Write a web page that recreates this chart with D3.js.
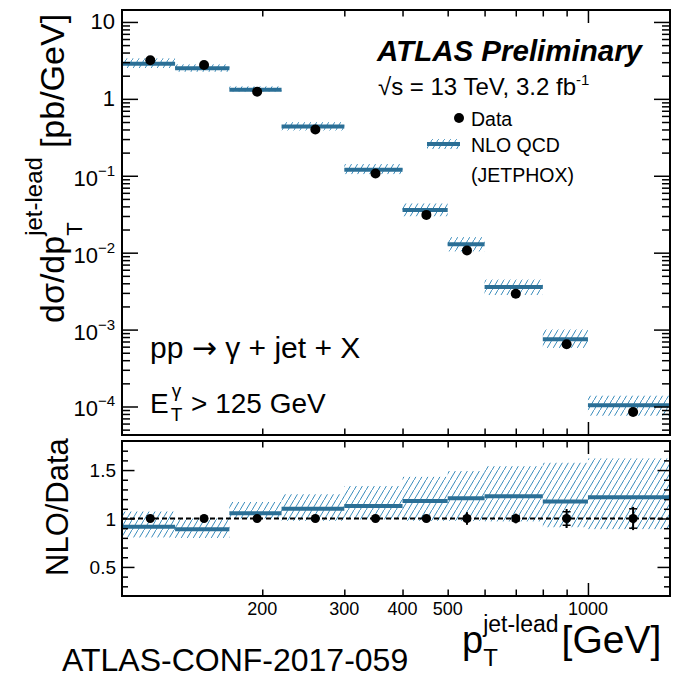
<!DOCTYPE html>
<html>
<head>
<meta charset="utf-8">
<script src="https://cdn.jsdelivr.net/npm/d3@7"></script>
<style>
    body { margin: 0; background: #fff; }
    svg { font-family: "Liberation Sans", Arial, Helvetica, sans-serif; }
</style>
</head>
<body>
<svg id="chart" width="681" height="679"></svg>
<script>
// jet pT bins [GeV]
var binEdges = [100, 130, 170, 220, 300, 400, 500, 600, 800, 1000, 1500];
var binCentres = [115, 150, 195, 260, 350, 450, 550, 700, 900, 1250];

// d sigma / d pT [pb/GeV]
var dataXsec = [3.18, 2.76, 1.24, 0.40, 0.107, 0.031, 0.0107, 0.00293, 0.000645, 0.000085];
var nloXsec = [2.87, 2.50, 1.31, 0.437, 0.120, 0.036, 0.0129, 0.00357, 0.000748, 0.000104];

// NLO / Data with the theory band
var ratio = [0.915, 0.89, 1.055, 1.10, 1.13, 1.18, 1.21, 1.23, 1.175, 1.22];
var ratioLow = [0.805, 0.80, 1.0, 0.975, 0.99, 0.975, 0.975, 0.97, 0.91, 0.89];
var ratioHigh = [1.072, 1.0, 1.17, 1.25, 1.335, 1.43, 1.49, 1.54, 1.575, 1.62];
var dataErr = [0.01, 0.01, 0.01, 0.015, 0.02, 0.03, 0.065, 0.05, 0.098, 0.12];
var dataStat = [0.005, 0.005, 0.005, 0.006, 0.008, 0.012, 0.02, 0.025, 0.07, 0.10];

var xTicks = [200, 300, 400, 500, 600, 700, 800, 900, 1000];
var xTickLabels = [200, 300, 400, 500, 1000];
var decades = [-4, -3, -2, -1, 0, 1];
var ratioLabels = [0.5, 1, 1.5];

var svg = d3.select("#chart");
var left = 122, right = 670;
var top1 = 10, bot1 = 435, top2 = 441, bot2 = 596;

var blue = "#2b6f96", hatchBlue = "#3a8cbb";

var x = d3.scaleLog().domain([100, 1500]).range([left, right]);
var y = d3.scaleLog().domain([4.26e-5, 14.3]).range([bot1, top1]);
var yR = d3.scaleLinear().domain([0.2, 1.8]).range([bot2, top2]);

var bins = d3.range(binCentres.length).map(function (i) {
    return {
        lo: binEdges[i], hi: binEdges[i + 1], c: binCentres[i],
        data: dataXsec[i], nlo: nloXsec[i],
        r: ratio[i], rLo: ratioLow[i], rHi: ratioHigh[i],
        err: dataErr[i], stat: dataStat[i]
    };
});

// hatch for the theory uncertainty
svg.append("defs").append("pattern")
    .attr("id", "hatch")
    .attr("patternUnits", "userSpaceOnUse")
    .attr("width", 6).attr("height", 10)
    .append("path")
    .attr("d", "M-0.6,11L6.6,-1")
    .attr("stroke", hatchBlue)
    .attr("stroke-width", 1);

// ---------- top panel ----------
var gTop = svg.append("g");

gTop.selectAll(".band").data(bins).enter().append("rect")
    .attr("x", function (d) { return x(d.lo); })
    .attr("width", function (d) { return x(d.hi) - x(d.lo); })
    .attr("y", function (d) { return y(d.nlo * d.rHi / d.r); })
    .attr("height", function (d) { return y(d.nlo * d.rLo / d.r) - y(d.nlo * d.rHi / d.r); })
    .attr("fill", "url(#hatch)");

gTop.selectAll(".nlo").data(bins).enter().append("line")
    .attr("x1", function (d) { return x(d.lo); })
    .attr("x2", function (d) { return x(d.hi); })
    .attr("y1", function (d) { return y(d.nlo); })
    .attr("y2", function (d) { return y(d.nlo); })
    .attr("stroke", blue)
    .attr("stroke-width", 4);

gTop.selectAll(".dot").data(bins).enter().append("circle")
    .attr("cx", function (d) { return x(d.c); })
    .attr("cy", function (d) { return y(d.data); })
    .attr("r", 5)
    .attr("fill", "black");

// ---------- ratio panel ----------
var gBot = svg.append("g");

gBot.selectAll(".band").data(bins).enter().append("rect")
    .attr("x", function (d) { return x(d.lo); })
    .attr("width", function (d) { return x(d.hi) - x(d.lo); })
    .attr("y", function (d) { return yR(d.rHi); })
    .attr("height", function (d) { return yR(d.rLo) - yR(d.rHi); })
    .attr("fill", "url(#hatch)");

gBot.selectAll(".nlo").data(bins).enter().append("line")
    .attr("x1", function (d) { return x(d.lo); })
    .attr("x2", function (d) { return x(d.hi); })
    .attr("y1", function (d) { return yR(d.r); })
    .attr("y2", function (d) { return yR(d.r); })
    .attr("stroke", blue)
    .attr("stroke-width", 4);

gBot.append("line")
    .attr("x1", left).attr("x2", right)
    .attr("y1", yR(1)).attr("y2", yR(1))
    .attr("stroke", "black")
    .attr("stroke-width", 2)
    .attr("stroke-dasharray", "5,3");

gBot.selectAll(".err").data(bins).enter().append("line")
    .attr("x1", function (d) { return x(d.c); })
    .attr("x2", function (d) { return x(d.c); })
    .attr("y1", function (d) { return yR(1 + d.err); })
    .attr("y2", function (d) { return yR(1 - d.err); })
    .attr("stroke", "black")
    .attr("stroke-width", 2);

[1, -1].forEach(function (s) {
    gBot.selectAll(".cap").data(bins).enter().append("line")
        .attr("x1", function (d) { return x(d.c) - 4; })
        .attr("x2", function (d) { return x(d.c) + 4; })
        .attr("y1", function (d) { return yR(1 + s * d.stat); })
        .attr("y2", function (d) { return yR(1 + s * d.stat); })
        .attr("stroke", "black")
        .attr("stroke-width", 1.5);
});

gBot.selectAll(".dot").data(bins).enter().append("circle")
    .attr("cx", function (d) { return x(d.c); })
    .attr("cy", yR(1))
    .attr("r", 4.5)
    .attr("fill", "black");

// ---------- ticks ----------
function ticks(axis, tx, ty) {
    var g = svg.append("g")
        .attr("transform", "translate(" + tx + "," + ty + ")")
        .call(axis.tickFormat(""));
    g.select(".domain").remove();
    g.selectAll("line").attr("stroke-width", 1.5);
}

var yMajor = decades.map(function (d) { return Math.pow(10, d); });
var yMinor = y.ticks().filter(function (v) {
    return Math.abs(Math.log10(v) - Math.round(Math.log10(v))) > 1e-6;
});
ticks(d3.axisLeft(y).tickValues(yMajor).tickSize(-16), left, 0);
ticks(d3.axisLeft(y).tickValues(yMinor).tickSize(-8), left, 0);
ticks(d3.axisRight(y).tickValues(yMajor).tickSize(-16), right, 0);
ticks(d3.axisRight(y).tickValues(yMinor).tickSize(-8), right, 0);

var xSmall = xTicks.filter(function (v) { return v !== 1000; });
[[top1, d3.axisTop], [bot1, d3.axisBottom], [top2, d3.axisTop], [bot2, d3.axisBottom]].forEach(function (p) {
    ticks(p[1](x).tickValues(xSmall).tickSize(-6.5), 0, p[0]);
    ticks(p[1](x).tickValues([1000]).tickSize(-13), 0, p[0]);
});

var rMajor = ratioLabels;
var rMinor = d3.range(3, 18).map(function (v) { return v / 10; })
    .filter(function (v) { return rMajor.indexOf(v) < 0; });
ticks(d3.axisLeft(yR).tickValues(rMajor).tickSize(-12.5), left, 0);
ticks(d3.axisLeft(yR).tickValues(rMinor).tickSize(-6), left, 0);
ticks(d3.axisRight(yR).tickValues(rMajor).tickSize(-12.5), right, 0);
ticks(d3.axisRight(yR).tickValues(rMinor).tickSize(-6), right, 0);

// frames
[[top1, bot1], [top2, bot2]].forEach(function (p) {
    svg.append("rect")
        .attr("x", left).attr("y", p[0])
        .attr("width", right - left).attr("height", p[1] - p[0])
        .attr("fill", "none")
        .attr("stroke", "black")
        .attr("stroke-width", 2);
});

// ---------- tick labels ----------
decades.forEach(function (d) {
    var t = svg.append("text")
        .attr("x", 115)
        .attr("y", y(Math.pow(10, d)) + (d >= 0 ? 7.5 : 10))
        .attr("text-anchor", "end")
        .attr("font-size", 22);
    if (d >= 0) {
        t.text(d === 0 ? "1" : "10");
    } else {
        t.append("tspan").text("10");
        t.append("tspan").attr("dy", -10).attr("font-size", 15).text("\u2212" + (-d));
    }
});

ratioLabels.forEach(function (v) {
    svg.append("text")
        .attr("x", 116).attr("y", yR(v) + 7)
        .attr("text-anchor", "end")
        .attr("font-size", 19)
        .text(v);
});

xTickLabels.forEach(function (v) {
    svg.append("text")
        .attr("x", x(v)).attr("y", 615)
        .attr("text-anchor", "middle")
        .attr("font-size", 18)
        .text(v);
});

// ---------- titles and annotations ----------
function put(g, s, px, py, size) {
    var t = g.append("text").attr("x", px).attr("y", py).attr("font-size", size).text(s);
    return t.node().getComputedTextLength();
}

// y title, top
var yt = svg.append("g").attr("transform", "translate(64,323) rotate(-90)");
var w1 = put(yt, "d\u03c3/dp", 0, 0, 34);
var wSub = put(yt, "T", w1, 18, 22);
var wSup = put(yt, "jet-lead", w1, -22, 24);
put(yt, "[pb/GeV]", w1 + Math.max(wSub, wSup) + 9, 0, 34);

// y title, ratio
var yt2 = svg.append("g").attr("transform", "translate(68,576) rotate(-90)");
put(yt2, "NLO/Data", 0, 0, 31);

// x title
var xt = svg.append("g").attr("transform", "translate(462,653)");
var wp = put(xt, "p", 0, 0, 38);
var wxs = put(xt, "T", wp, 13, 24);
var wxp = put(xt, "jet-lead", wp, -21, 23);
put(xt, "[GeV]", wp + Math.max(wxs, wxp) + 3, 0, 39);

svg.append("text")
    .attr("x", 62).attr("y", 671)
    .attr("font-size", 32)
    .text("ATLAS-CONF-2017-059");

svg.append("text")
    .attr("x", 377).attr("y", 61)
    .attr("font-size", 29.5)
    .attr("font-weight", "bold")
    .attr("font-style", "italic")
    .text("ATLAS Preliminary");

var en = svg.append("text")
    .attr("x", 378).attr("y", 95)
    .attr("font-size", 24);
en.append("tspan").text("\u221as = 13 TeV, 3.2 fb");
en.append("tspan").attr("dy", -10).attr("font-size", 15).text("-1");

// legend
svg.append("circle").attr("cx", 459).attr("cy", 118).attr("r", 5).attr("fill", "black");
svg.append("text").attr("x", 471).attr("y", 125.5).attr("font-size", 19.5).text("Data");
svg.append("rect").attr("x", 427).attr("y", 139).attr("width", 33).attr("height", 10).attr("fill", "url(#hatch)");
svg.append("line").attr("x1", 427).attr("x2", 460).attr("y1", 144).attr("y2", 144)
    .attr("stroke", blue).attr("stroke-width", 4);
svg.append("text").attr("x", 471).attr("y", 151.5).attr("font-size", 19.5).text("NLO QCD");
svg.append("text").attr("x", 471).attr("y", 181.5).attr("font-size", 19.5).text("(JETPHOX)");

// process label
var pl = svg.append("text")
    .attr("x", 150).attr("y", 358)
    .attr("font-size", 30);
pl.append("tspan").text("pp ");
pl.append("tspan").style("font-family", "DejaVu Sans").text("\u2192");
pl.append("tspan").text(" \u03b3 + jet + X");

var ge = svg.append("g");
var wE = put(ge, "E", 150, 413, 28);
put(ge, "T", 150 + wE + 2, 421, 19);
put(ge, "\u03b3", 150 + wE + 3, 397, 19);
put(ge, "> 125 GeV", 191, 413, 28);
</script>
</body>
</html>
